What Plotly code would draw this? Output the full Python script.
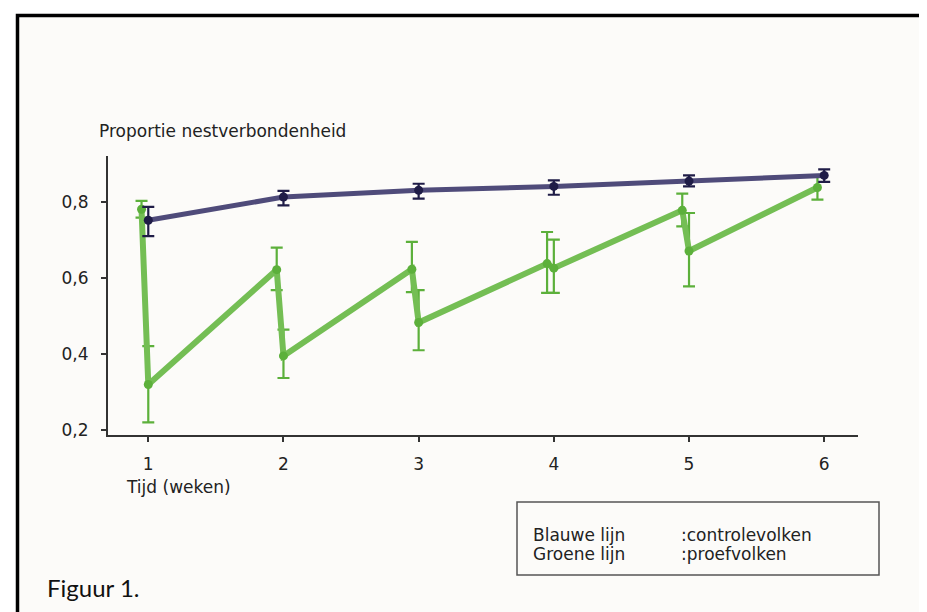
import plotly.graph_objects as go

# ---------------- data ----------------
weeks = [1, 2, 3, 4, 5, 6]
tick_labels_y = ["0,2", "0,4", "0,6", "0,8"]
tick_vals_y = [0.2, 0.4, 0.6, 0.8]

# control colonies (blue line)
blue_y = [0.752, 0.813, 0.831, 0.841, 0.855, 0.870]
blue_err_plus = [0.035, 0.016, 0.017, 0.016, 0.015, 0.016]
blue_err_minus = [0.042, 0.022, 0.022, 0.022, 0.014, 0.017]

# test colonies (green line) - measured just before and just after each treatment
green_x = [0.95, 1.0, 1.95, 2.0, 2.95, 3.0, 3.95, 4.0, 4.95, 5.0, 5.95]
green_y = [0.781, 0.320, 0.622, 0.395, 0.623, 0.483, 0.638, 0.626, 0.778, 0.671, 0.838]
green_err_plus = [0.022, 0.101, 0.058, 0.069, 0.072, 0.085, 0.083, 0.075, 0.044, 0.100, 0.030]
green_err_minus = [0.022, 0.100, 0.054, 0.058, 0.060, 0.073, 0.077, 0.065, 0.042, 0.093, 0.032]

y_title = "Proportie nestverbondenheid"
x_title = "Tijd (weken)"
legend_rows = [("Blauwe lijn", ":controlevolken"), ("Groene lijn", ":proefvolken")]
caption = "Figuur 1."

# ---------------- layout geometry (pixels) ----------------
OFF = 8  # page body margin in the browser
W, H = 927 - OFF, 612 - OFF
PLOT_L, PLOT_R, PLOT_T, PLOT_B = 108, 858, 156, 435  # target screen coordinates
ML, MT = PLOT_L - OFF, PLOT_T - OFF
MR, MB = W - (PLOT_R - OFF), H - (PLOT_B - OFF)
PW, PH = PLOT_R - PLOT_L, PLOT_B - PLOT_T


def px(x):
    return (x - PLOT_L) / PW


def py(y):
    return (PLOT_B - y) / PH


BLUE_LINE = "#4f4b7a"
BLUE_DARK = "#1f1c47"
GREEN_LINE = "#74be54"
GREEN_DARK = "#5cb03b"
TXT = "#222222"
FONT = "DejaVu Sans, Arial, sans-serif"
FS = 17

fig = go.Figure()

fig.add_trace(go.Scatter(
    x=green_x, y=green_y, mode="lines+markers",
    line=dict(color=GREEN_LINE, width=6),
    marker=dict(color=GREEN_DARK, size=9),
    error_y=dict(type="data", symmetric=False, array=green_err_plus,
                 arrayminus=green_err_minus, color=GREEN_DARK, thickness=2.2, width=6),
    showlegend=False, hoverinfo="skip",
))

fig.add_trace(go.Scatter(
    x=weeks, y=blue_y, mode="lines+markers",
    line=dict(color=BLUE_LINE, width=5),
    marker=dict(color=BLUE_DARK, size=9),
    error_y=dict(type="data", symmetric=False, array=blue_err_plus,
                 arrayminus=blue_err_minus, color=BLUE_DARK, thickness=2.2, width=6),
    showlegend=False, hoverinfo="skip",
))

shapes = [
    # outer frame
    dict(type="rect", xref="paper", yref="paper",
         x0=px(17.5), x1=px(960), y0=py(660), y1=py(15.5),
         line=dict(color="#000000", width=3.5), fillcolor="#fcfbf9", layer="below"),
    # legend box
    dict(type="rect", xref="paper", yref="paper",
         x0=px(517), x1=px(879), y0=py(575), y1=py(502),
         line=dict(color="#555555", width=1.5), fillcolor="rgba(0,0,0,0)", layer="above"),
]

annotations = [
    dict(text=y_title, xref="paper", yref="paper", x=px(97), y=py(131),
         xanchor="left", yanchor="middle", showarrow=False,
         font=dict(family=FONT, size=FS, color=TXT)),
    dict(text=x_title, xref="paper", yref="paper", x=px(124), y=py(487),
         xanchor="left", yanchor="middle", showarrow=False,
         font=dict(family=FONT, size=FS, color=TXT)),
    dict(text=caption, xref="paper", yref="paper", x=px(45), y=py(587),
         xanchor="left", yanchor="middle", showarrow=False,
         font=dict(family="Lato, Carlito, sans-serif", size=24, color="#111111")),
]
for i, (a, b) in enumerate(legend_rows):
    yy = 535 + i * 19
    annotations.append(dict(text=a, xref="paper", yref="paper", x=px(531), y=py(yy),
                            xanchor="left", yanchor="middle", showarrow=False,
                            font=dict(family=FONT, size=FS, color=TXT)))
    annotations.append(dict(text=b, xref="paper", yref="paper", x=px(679), y=py(yy),
                            xanchor="left", yanchor="middle", showarrow=False,
                            font=dict(family=FONT, size=FS, color=TXT)))

fig.update_layout(
    width=W, height=H,
    margin=dict(l=ML, r=MR, t=MT, b=MB, pad=0),
    paper_bgcolor="#ffffff",
    plot_bgcolor="#ffffff",
    shapes=shapes,
    annotations=annotations,
    xaxis=dict(range=[0.702, 6.25], tickvals=weeks, ticktext=[str(w) for w in weeks],
               showgrid=False, zeroline=False, showline=True, linecolor="#333333",
               linewidth=2, ticks="outside", ticklen=5, tickwidth=2, tickcolor="#333333",
               ticklabelstandoff=8,
               tickfont=dict(family=FONT, size=FS, color=TXT)),
    yaxis=dict(range=[0.187, 0.921], tickvals=tick_vals_y, ticktext=tick_labels_y,
               showgrid=False, zeroline=False, showline=True, linecolor="#333333",
               linewidth=2, ticks="outside", ticklen=5, tickwidth=2, tickcolor="#333333",
               ticklabelstandoff=9,
               tickfont=dict(family=FONT, size=FS, color=TXT)),
)

fig.write_html("out.html")
